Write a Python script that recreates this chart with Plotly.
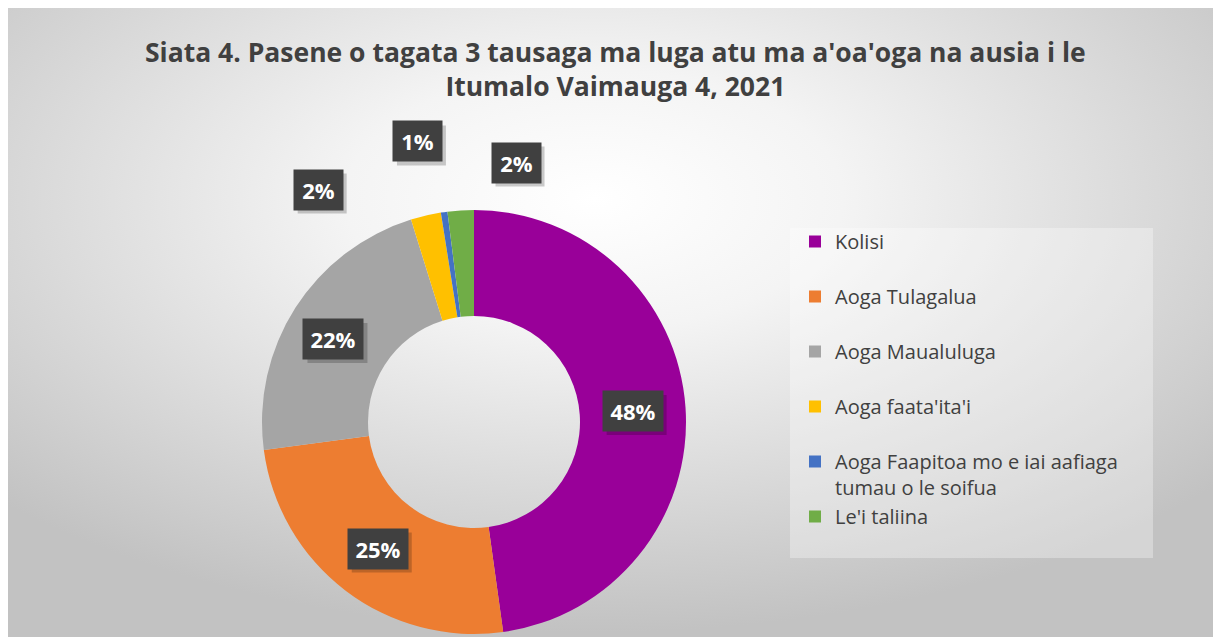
import base64
import math
import plotly.graph_objects as go

# ---------------- data ----------------
categories = ["Kolisi", "Aoga Tulagalua", "Aoga Maualuluga", "Aoga faata'ita'i",
              "Aoga Faapitoa mo e iai aafiaga<br>tumau o le soifua", "Le'i taliina"]
values = [47.8, 25.1, 22.3, 2.3, 0.5, 2.0]
label_text = ["48%", "25%", "22%", "2%", "1%", "2%"]

colors = ["#990099", "#ED7D31", "#A5A5A5", "#FFC000", "#4472C4", "#70AD47"]

# ---------------- layout constants (figure pixels; page adds an 8px body margin) ----------------
W, H = 1221, 637
CX, CY, R = 466, 414, 212          # donut centre / radius in pixels
HOLE = 0.5
# label placement: (angle offset from slice middle in degrees, radius factor)
label_place = [(0, 0.75), (0, 0.75), (-2, 0.77), (-20.7, 1.32), (-3.3, 1.35), (12.8, 1.24)]

# background gradient (radial, Excel style)
svg = ('<svg xmlns="http://www.w3.org/2000/svg" width="1221" height="637" preserveAspectRatio="none">'
       '<defs><radialGradient id="g" cx="0.48" cy="0.3" r="0.68">'
       '<stop offset="0" stop-color="#ffffff"/><stop offset="0.3" stop-color="#f4f4f4"/>'
       '<stop offset="1" stop-color="#c2c2c2"/></radialGradient></defs>'
       '<rect width="100%" height="100%" fill="url(#g)"/></svg>')
src = "data:image/svg+xml;base64," + base64.b64encode(svg.encode()).decode()

legend_names = [c + "<br> " if i < len(categories) - 1 and "<br>" not in c else c
                for i, c in enumerate(categories)]

fig = go.Figure()
fig.add_trace(go.Pie(
    labels=legend_names,
    values=values,
    hole=HOLE,
    sort=False,
    direction="clockwise",
    rotation=0,
    textinfo="none",
    marker=dict(colors=colors, line=dict(width=0)),
    domain=dict(x=[(CX - R) / W, (CX + R) / W], y=[(H - CY - R) / H, (H - CY + R) / H]),
    showlegend=True,
    hoverinfo="label+percent",
))

# data labels as dark boxes, positioned from the slice angles
total = sum(values)
annotations = []
shapes = [
    dict(type="rect", xref="paper", yref="paper", x0=(782) / W, x1=(1145) / W,
         y0=1 - 550 / H, y1=1 - 220 / H,
         line=dict(width=0), fillcolor="rgba(255,255,255,0.32)", layer="below"),
]
cum = 0.0
for i, v in enumerate(values):
    mid = (cum + v / 2) / total * 360.0
    cum += v
    dang, rf = label_place[i]
    ang = math.radians(mid + dang)
    px = CX + rf * R * math.sin(ang)
    py = CY - rf * R * math.cos(ang)
    bw = 60 if len(label_text[i]) > 2 else 49
    bh = 40
    shapes.append(dict(
        type="rect", xref="paper", yref="paper",
        x0=(px - bw / 2 + 4) / W, x1=(px + bw / 2 + 4) / W,
        y0=1 - (py + bh / 2 + 4) / H, y1=1 - (py - bh / 2 + 4) / H,
        line=dict(width=0), fillcolor="rgba(0,0,0,0.2)", layer="above",
    ))
    annotations.append(dict(
        x=px / W, y=1 - py / H, xref="paper", yref="paper",
        xanchor="center", yanchor="middle",
        text=label_text[i], showarrow=False, width=bw - 2, height=bh - 2,
        bgcolor="#404040", font=dict(color="white", size=22, family="Open Sans", weight="bold"),
    ))

annotations.append(dict(
    text="Siata 4. Pasene o tagata 3 tausaga ma luga atu ma a'oa'oga na ausia i le<br>Itumalo Vaimauga 4, 2021",
    x=607 / W, y=1 - 61 / H, xref="paper", yref="paper", xanchor="center", yanchor="middle",
    showarrow=False,
    font=dict(family="Open Sans", size=26.5, color="#404040", weight="bold"),
))

fig.update_layout(
    width=W, height=H,
    margin=dict(l=0, r=0, t=0, b=0),
    paper_bgcolor="white",
    plot_bgcolor="rgba(0,0,0,0)",
    legend=dict(
        x=787 / W, y=1 - 214 / H, xanchor="left", yanchor="top",
        bgcolor="rgba(0,0,0,0)", font=dict(family="Open Sans", size=20, color="#404040"),
        valign="top", traceorder="normal",
    ),
    images=[dict(source=src, xref="paper", yref="paper", x=0, y=1,
                 sizex=1, sizey=1, sizing="stretch", layer="below")],
    shapes=shapes,
    annotations=annotations,
)

fig.write_html("out.html")
